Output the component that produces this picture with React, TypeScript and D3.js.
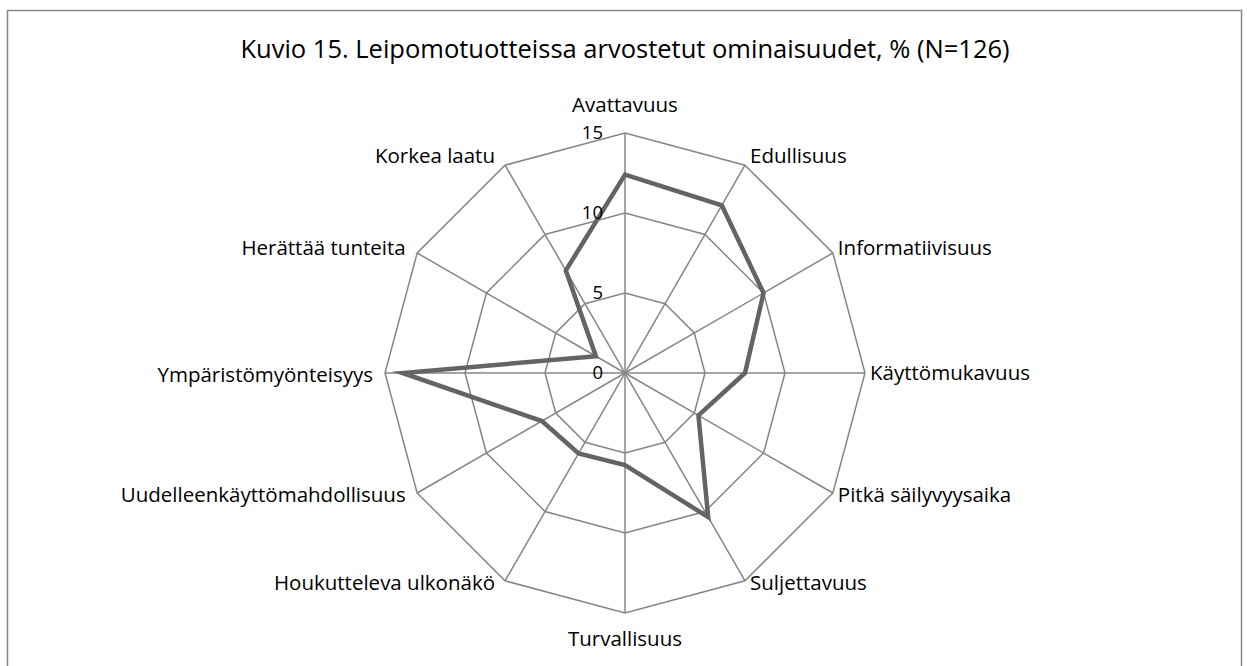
import React from "react";
import * as d3 from "d3";

const categories = [
  "Avattavuus",
  "Edullisuus",
  "Informatiivisuus",
  "Käyttömukavuus",
  "Pitkä säilyvyysaika",
  "Suljettavuus",
  "Turvallisuus",
  "Houkutteleva ulkonäkö",
  "Uudelleenkäyttömahdollisuus",
  "Ympäristömyönteisyys",
  "Herättää tunteita",
  "Korkea laatu",
];
const values = [12.4, 12.1, 10.0, 7.5, 5.3, 10.4, 5.75, 5.8, 6.0, 13.9, 2.1, 7.4];
const ticks = [0, 5, 10, 15];
const title = "Kuvio 15. Leipomotuotteissa arvostetut ominaisuudet, % (N=126)";

const W = 1247;
const H = 666;
const cx = 625;
const cy = 373;
const R = 240;
const FONT = "'Open Sans', 'Noto Sans', sans-serif";

export default function App() {
  const n = categories.length;
  const angle = d3.scaleLinear().domain([0, n]).range([0, 2 * Math.PI]);
  const r = d3.scaleLinear().domain([0, 15]).range([0, R]);
  const pt = (i: number, v: number): [number, number] => {
    const a = angle(i);
    return [cx + r(v) * Math.sin(a), cy - r(v) * Math.cos(a)];
  };
  const ringLine = d3.line<[number, number]>().curve(d3.curveLinearClosed);
  const rings = ticks.filter((t) => t > 0).map((t) => ringLine(categories.map((_, i) => pt(i, t)))!);
  const series = ringLine(values.map((v, i) => pt(i, v)))!;

  return (
    <div style={{ position: "fixed", left: 0, top: 0 }}>
      <svg width={W} height={H} style={{ display: "block", background: "#fff" }}>
        <rect x={7.5} y={10.5} width={1234} height={700} fill="#fff" stroke="#868686" strokeWidth={1.5} />
        <text x={cx} y={58} textAnchor="middle" fontFamily={FONT} fontSize={25.5} fill="#000">
          {title}
        </text>
        {categories.map((_, i) => {
          const [x, y] = pt(i, 15);
          return <line key={"s" + i} x1={cx} y1={cy} x2={x} y2={y} stroke="#868686" strokeWidth={1.5} />;
        })}
        {rings.map((d, i) => (
          <path key={"r" + i} d={d} fill="none" stroke="#868686" strokeWidth={1.5} />
        ))}
        <path d={series} fill="none" stroke="#646464" strokeWidth={4.5} strokeLinejoin="miter" strokeMiterlimit={10} />
        {ticks.map((t) => (
          <text
            key={"t" + t}
            x={cx - 22}
            y={cy - r(t)}
            dy="0.35em"
            textAnchor="end"
            fontFamily={FONT}
            fontSize={18.5}
            fill="#000"
          >
            {t}
          </text>
        ))}
        {categories.map((c, i) => {
          const a = angle(i);
          const s = Math.sin(a);
          const co = Math.cos(a);
          const [vx, vy] = pt(i, 15);
          let x = vx;
          let y = vy;
          let anchor = "middle";
          if (s > 0.01) {
            anchor = "start";
            x = vx + 5;
          } else if (s < -0.01) {
            anchor = "end";
            x = vx - 8 + s * 4;
          }
          if (co > 0.99) y = vy - 28;
          else if (co < -0.99) y = vy + 26;
          else y = vy - Math.max(co, 0) * 11 + (co < 0 ? 2 : 0);
          return (
            <text
              key={"l" + i}
              x={x}
              y={y}
              dy="0.35em"
              textAnchor={anchor}
              fontFamily={FONT}
              fontSize={20.5}
              fill="#000"
            >
              {c}
            </text>
          );
        })}
      </svg>
    </div>
  );
}
